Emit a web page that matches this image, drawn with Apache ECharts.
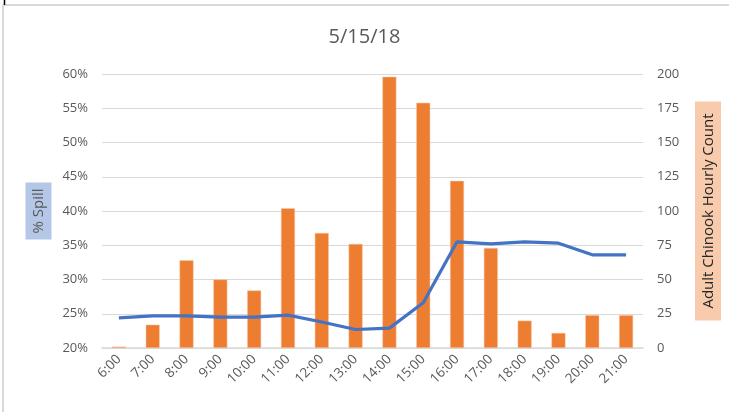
<!DOCTYPE html>
<html><head><meta charset="utf-8">
<script src="https://cdn.jsdelivr.net/npm/echarts@6/dist/echarts.min.js"></script>
<style>html,body{margin:0;padding:0;background:#fff}#c{width:729px;height:412px}</style>
</head><body><div id="c"></div>
<script>
const categories = ['6:00','7:00','8:00','9:00','10:00','11:00','12:00','13:00','14:00','15:00','16:00','17:00','18:00','19:00','20:00','21:00'];
const countValues = [1,17,64,50,42,102,84,76,198,179,122,73,20,11,24,24];
const spillValues = [24.4,24.7,24.7,24.5,24.5,24.8,23.8,22.7,22.9,26.6,35.5,35.2,35.5,35.3,33.6,33.6];
const title = '5/15/18';
const leftName = '% Spill';
const rightName = 'Adult Chinook Hourly Count';

const font = '"Open Sans", sans-serif';
const chart = echarts.init(document.getElementById('c'));
chart.setOption({
  animation: false,
  backgroundColor: '#fff',
  title: {text: title, left: 'center', top: 22, textStyle: {color: '#595959', fontSize: 20, fontWeight: 'normal', fontFamily: font}},
  grid: {left: 102, right: 80, top: 74, bottom: 64},
  graphic: [
    {type: 'line', shape: {x1: 3, y1: 5, x2: 729, y2: 5}, style: {stroke: '#d9d9d9', lineWidth: 2}},
    {type: 'line', shape: {x1: 3, y1: 5, x2: 3, y2: 412}, style: {stroke: '#d9d9d9', lineWidth: 2}},
    {type: 'line', shape: {x1: 4.5, y1: 0, x2: 4.5, y2: 5}, style: {stroke: '#000', lineWidth: 1.5}}
  ],
  xAxis: {
    type: 'category', data: categories,
    axisLine: {lineStyle: {color: '#d9d9d9', width: 1.5}},
    axisTick: {show: false},
    axisLabel: {rotate: 45, color: '#595959', fontSize: 13.5, fontFamily: font, margin: 9, interval: 0}
  },
  yAxis: [
    {type: 'value', min: 20, max: 60, interval: 5, position: 'left',
     name: leftName, nameLocation: 'middle', nameGap: 50, nameRotate: 90,
     nameTextStyle: {color: '#595959', fontSize: 15, fontFamily: font, backgroundColor: '#B4C7E7', padding: [6, 6, 5, 6]},
     axisLabel: {formatter: '{value}%', color: '#595959', fontSize: 13, fontFamily: font, margin: 14},
     splitLine: {lineStyle: {color: '#d9d9d9'}}, axisLine: {show: false}, axisTick: {show: false}},
    {type: 'value', min: 0, max: 200, interval: 25, position: 'right',
     name: rightName, nameLocation: 'middle', nameGap: 52, nameRotate: 90,
     nameTextStyle: {color: '#262626', fontSize: 15, fontFamily: font, backgroundColor: '#F8CBAD', padding: [6, 12, 5, 12]},
     axisLabel: {color: '#595959', fontSize: 13, fontFamily: font, margin: 14},
     splitLine: {show: false}, axisLine: {show: false}, axisTick: {show: false}}
  ],
  series: [
    {type: 'bar', yAxisIndex: 1, data: countValues, barWidth: 14,
     itemStyle: {color: '#ED7D31', borderColor: '#F8CBAD', borderWidth: 0.5}},
    {type: 'line', yAxisIndex: 0, data: spillValues, symbol: 'none',
     lineStyle: {color: '#4472C4', width: 3.2}, z: 3}
  ]
});
</script></body></html>
